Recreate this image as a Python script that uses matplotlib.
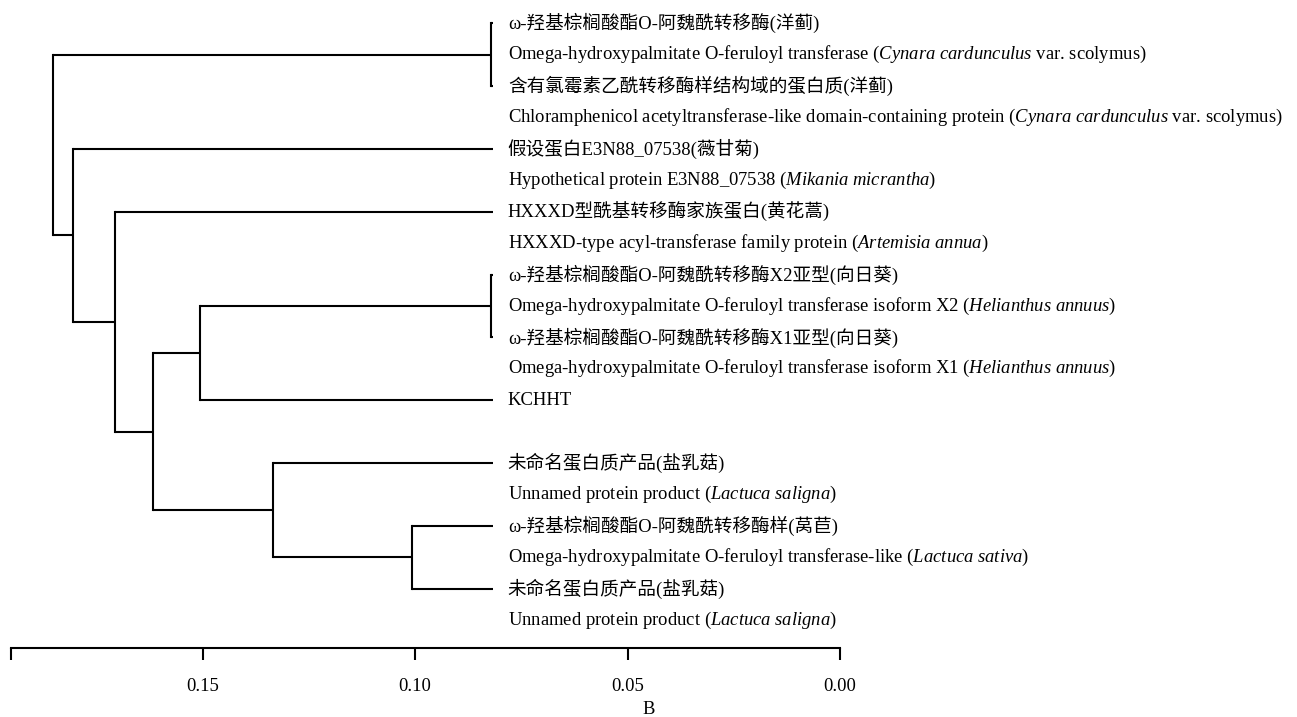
import matplotlib
matplotlib.use("Agg")
import matplotlib.pyplot as plt
from matplotlib.transforms import offset_copy

plt.rcParams["font.family"] = ["Liberation Serif", "Noto Sans CJK SC"]
plt.rcParams["mathtext.fontset"] = "custom"
plt.rcParams["mathtext.rm"] = "Liberation Serif"
plt.rcParams["mathtext.it"] = "Liberation Serif:italic"

# Leaf labels (Chinese name, English name) in top-to-bottom order
labels_cn = [
    "ω-羟基棕榈酸酯O-阿魏酰转移酶(洋蓟)",
    "含有氯霉素乙酰转移酶样结构域的蛋白质(洋蓟)",
    "假设蛋白E3N88_07538(薇甘菊)",
    "HXXXD型酰基转移酶家族蛋白(黄花蒿)",
    "ω-羟基棕榈酸酯O-阿魏酰转移酶X2亚型(向日葵)",
    "ω-羟基棕榈酸酯O-阿魏酰转移酶X1亚型(向日葵)",
    "KCHHT",
    "未命名蛋白质产品(盐乳菇)",
    "ω-羟基棕榈酸酯O-阿魏酰转移酶样(莴苣)",
    "未命名蛋白质产品(盐乳菇)",
]
labels_en = [
    r"Omega-hydroxypalmitate O-feruloyl transferase ($\mathit{Cynara\ cardunculus}$ var. scolymus)",
    r"Chloramphenicol acetyltransferase-like domain-containing protein ($\mathit{Cynara\ cardunculus}$ var. scolymus)",
    r"Hypothetical protein E3N88_07538 ($\mathit{Mikania\ micrantha}$)",
    r"HXXXD-type acyl-transferase family protein ($\mathit{Artemisia\ annua}$)",
    r"Omega-hydroxypalmitate O-feruloyl transferase isoform X2 ($\mathit{Helianthus\ annuus}$)",
    r"Omega-hydroxypalmitate O-feruloyl transferase isoform X1 ($\mathit{Helianthus\ annuus}$)",
    None,
    r"Unnamed protein product ($\mathit{Lactuca\ saligna}$)",
    r"Omega-hydroxypalmitate O-feruloyl transferase-like ($\mathit{Lactuca\ sativa}$)",
    r"Unnamed protein product ($\mathit{Lactuca\ saligna}$)",
]
leaf_rows = [0, 2, 4, 6, 8, 10, 12, 14, 16, 18]
leaf_height = 0.0817

# Merges: (child a, child b, height); new nodes are numbered after the leaves
merges = [
    (0, 1, 0.0822),
    (4, 5, 0.0822),
    (11, 6, 0.1506),
    (8, 9, 0.1008),
    (7, 13, 0.1335),
    (12, 14, 0.1618),
    (3, 15, 0.1706),
    (2, 16, 0.1804),
    (10, 17, 0.1853),
]

scale_start = 0.195
scale_ticks = [0.15, 0.10, 0.05, 0.00]
scale_labels = ["0.15", "0.10", "0.05", "0.00"]
panel_label = "B"

W, H, DPI = 1297, 717, 100
fig = plt.figure(figsize=(W / DPI, H / DPI), dpi=DPI)
ax = fig.add_axes([0, 0, 1, 1])
px_per_unit = 4249.0
x0_px = 840.0
ax.set_xlim(x0_px / px_per_unit, -(W - x0_px) / px_per_unit)
row_px, row0_px = 31.41, 23.3
ax.set_ylim((H - row0_px) / row_px, -row0_px / row_px)
ax.axis("off")

lw = 1.5
ys = list(leaf_rows)
hs = [leaf_height] * len(leaf_rows)
for a, b, h in merges:
    ax.plot([h, h], [ys[a], ys[b]], color="black", lw=lw, solid_capstyle="projecting")
    for c in (a, b):
        ax.plot([h, hs[c]], [ys[c], ys[c]], color="black", lw=lw, solid_capstyle="butt")
    ys.append((ys[a] + ys[b]) / 2)
    hs.append(h)

fs = 13.4
tr = offset_copy(ax.transData, fig=fig, x=15, y=0, units="dots")
for cn, en, r in zip(labels_cn, labels_en, leaf_rows):
    ax.text(leaf_height, r, cn, transform=tr, ha="left", va="center", fontsize=fs)
    if en is not None:
        ax.text(leaf_height, r + 1, en, transform=tr, ha="left", va="center", fontsize=fs)

# Scale bar
line_px = 648.3
sax = fig.add_axes([0, 1 - line_px / H, 1, 0.001])
sax.set_xlim(ax.get_xlim())
sax.patch.set_visible(False)
for s in ("top", "left", "right"):
    sax.spines[s].set_visible(False)
sax.spines["bottom"].set_bounds(0.0, scale_start)
sax.spines["bottom"].set_linewidth(lw)
sax.set_yticks([])
sax.set_xticks([scale_start] + scale_ticks)
sax.set_xticklabels([""] + scale_labels, fontsize=fs)
sax.tick_params(axis="x", direction="out", length=8.5, width=lw, pad=13)
sax.set_xlabel(panel_label, fontsize=fs, labelpad=4)

fig.savefig("out.png", dpi=DPI)
